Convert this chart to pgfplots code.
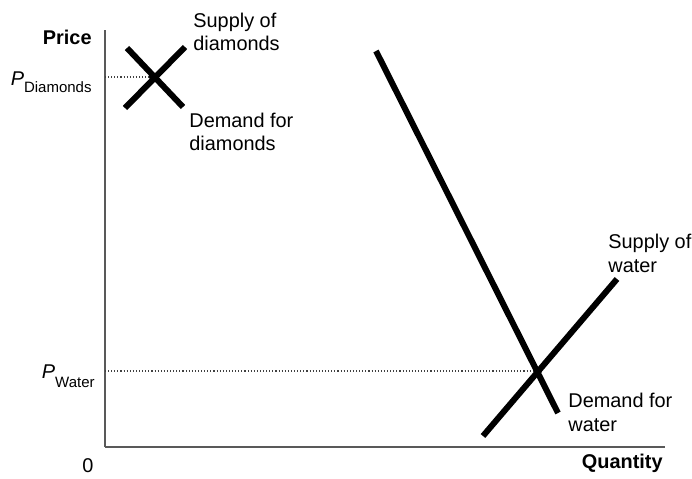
\documentclass[border=0pt]{standalone}
\usepackage{fontspec}
\setmainfont{Liberation Sans}
\usepackage{pgfplots}
\pgfplotsset{compat=1.18}
\begin{document}
\begin{tikzpicture}[font=\fontsize{9.95}{11.8}\selectfont,
    lbl/.style={inner sep=0pt, anchor=base west}]
\begin{axis}[
    x=0.5pt, y=0.5pt,
    xmin=0, xmax=560, ymin=0, ymax=417,
    axis lines=left,
    axis line style={-, line width=0.8pt, black!65},
    xtick=\empty, ytick=\empty,
    clip=false,
]
% canvas
\path (axis cs:-105,-31) rectangle (axis cs:587,447);

% equilibrium price guides
\addplot[densely dotted, line width=0.55pt, black!75] coordinates {(0,370) (48,370)};
\addplot[densely dotted, line width=0.55pt, black!75] coordinates {(0,76) (433,76)};

% diamonds
\addplot[black, line width=3pt] coordinates {(20,339) (80,400)};
\addplot[black, line width=3pt] coordinates {(22,399) (78,340)};
% water
\addplot[black, line width=3pt] coordinates {(271,396) (453,34)};
\addplot[black, line width=3pt] coordinates {(378,11) (512,168)};

\addplot[only marks, mark=*, mark size=1.8pt, black] coordinates {(48,370) (433,76)};

% axis labels
\node[inner sep=0pt, anchor=base east, font=\fontsize{9.95}{11.8}\selectfont\bfseries] at (axis cs:-13,402) {Price};
\node[inner sep=0pt, anchor=base east, font=\fontsize{9.95}{11.8}\selectfont\bfseries] at (axis cs:558,-21) {Quantity};
\node[inner sep=0pt, anchor=base] at (axis cs:-17,-25) {0};
\node[inner sep=0pt, anchor=base east] at (axis cs:-13,362)
    {\textit{P}\raisebox{-3.5pt}{\fontsize{7.5}{8}\selectfont Diamonds}};
\node[inner sep=0pt, anchor=base east] at (axis cs:-10,69)
    {\textit{P}\raisebox{-4.5pt}{\fontsize{7.5}{8}\selectfont Water}};

% curve labels
\node[lbl] at (axis cs:88,420) {Supply of};
\node[lbl] at (axis cs:88,397) {diamonds};
\node[lbl] at (axis cs:84,320) {Demand for};
\node[lbl] at (axis cs:84,297) {diamonds};
\node[lbl] at (axis cs:503,199) {Supply of};
\node[lbl] at (axis cs:503,175) {water};
\node[lbl] at (axis cs:463,40) {Demand for};
\node[lbl] at (axis cs:463,16) {water};
\end{axis}
\end{tikzpicture}
\end{document}
